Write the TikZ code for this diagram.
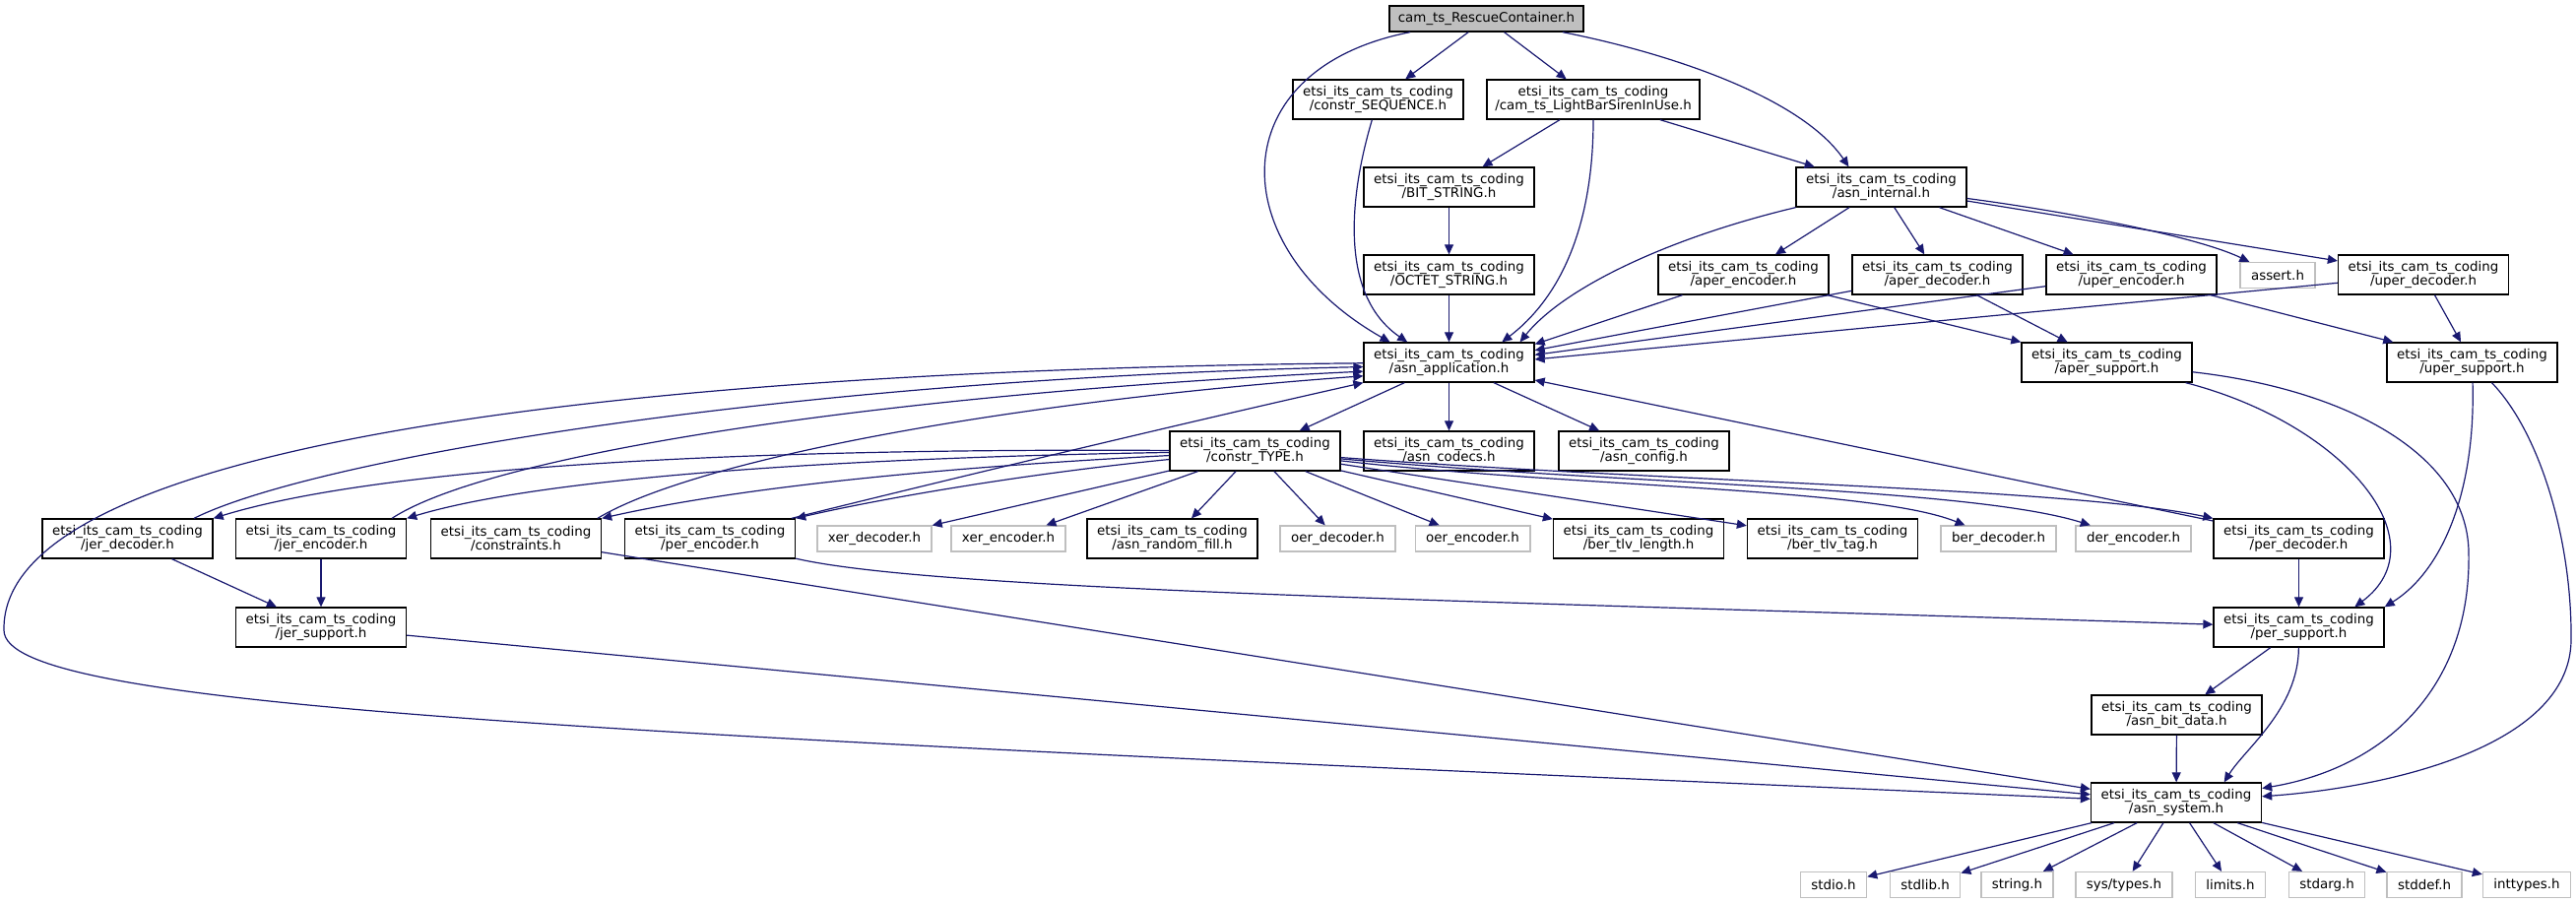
\documentclass[tikz,border=0pt]{standalone}
\usepackage{fontspec}
\setmainfont{DejaVu Sans}
\usetikzlibrary{arrows.meta}
\definecolor{depblue}{HTML}{191970}
\definecolor{sysgray}{HTML}{BFBFBF}
\newcommand\etsi{etsi\_its\_cam\_ts\_coding}
\begin{document}
\begin{tikzpicture}[x=0.5pt, y=-0.5pt,
  every node/.style={font=\fontsize{6.7}{7.4}\selectfont, align=center},
  hdr/.style={draw=black, line width=0.65pt, fill=white, minimum width=86.5pt, minimum height=20pt, inner sep=1pt},
  syshdr/.style={draw=sysgray, line width=0.65pt, fill=white, minimum height=13pt, inner xsep=5.5pt, inner ysep=0pt},
  roothdr/.style={draw=black, line width=0.65pt, fill=sysgray, minimum width=98.5pt, minimum height=13pt, inner sep=1pt},
  dep/.style={draw=depblue, line width=0.6pt, -{Triangle[length=5pt,width=4.5pt]}}]
\useasboundingbox (0,0) rectangle (2616,916);

\node[roothdr] (root) at (1509.5,19) {cam\_ts\_RescueContainer.h};
\node[hdr] (constrSeq) at (1399.5,101) {\etsi\\/constr\_SEQUENCE.h};
\node[hdr, minimum width=108pt] (lightBar) at (1618,101) {\etsi\\/cam\_ts\_LightBarSirenInUse.h};
\node[hdr] (bitString) at (1471.5,190) {\etsi\\/BIT\_STRING.h};
\node[hdr] (asnInt) at (1910.5,190) {\etsi\\/asn\_internal.h};
\node[hdr] (octetString) at (1471.5,279) {\etsi\\/OCTET\_STRING.h};
\node[hdr] (aperEnc) at (1770.5,279) {\etsi\\/aper\_encoder.h};
\node[hdr] (aperDec) at (1967.5,279) {\etsi\\/aper\_decoder.h};
\node[hdr] (uperEnc) at (2164.5,279) {\etsi\\/uper\_encoder.h};
\node[syshdr] (assert) at (2313,279.5) {assert.h};
\node[hdr] (uperDec) at (2461,279) {\etsi\\/uper\_decoder.h};
\node[hdr] (asnApp) at (1471.5,368) {\etsi\\/asn\_application.h};
\node[hdr] (aperSup) at (2139.5,368) {\etsi\\/aper\_support.h};
\node[hdr] (uperSup) at (2510.5,368) {\etsi\\/uper\_support.h};
\node[hdr] (constrType) at (1274.5,458) {\etsi\\/constr\_TYPE.h};
\node[hdr] (asnCodecs) at (1471.5,458) {\etsi\\/asn\_codecs.h};
\node[hdr] (asnConfig) at (1669.5,458) {\etsi\\/asn\_config.h};
\node[hdr] (jerDec) at (129.5,547) {\etsi\\/jer\_decoder.h};
\node[hdr] (jerEnc) at (326,547) {\etsi\\/jer\_encoder.h};
\node[hdr] (constraints) at (524,547) {\etsi\\/constraints.h};
\node[hdr] (perEnc) at (721,547) {\etsi\\/per\_encoder.h};
\node[syshdr] (xerDec) at (888,547) {xer\_decoder.h};
\node[syshdr] (xerEnc) at (1024,547) {xer\_encoder.h};
\node[hdr] (asnRandom) at (1190.5,547) {\etsi\\/asn\_random\_fill.h};
\node[syshdr] (oerDec) at (1358.5,547) {oer\_decoder.h};
\node[syshdr] (oerEnc) at (1495.5,547) {oer\_encoder.h};
\node[hdr] (berTlvLen) at (1664,547) {\etsi\\/ber\_tlv\_length.h};
\node[hdr] (berTlvTag) at (1861,547) {\etsi\\/ber\_tlv\_tag.h};
\node[syshdr] (berDec) at (2029.5,547) {ber\_decoder.h};
\node[syshdr] (derEnc) at (2166.5,547) {der\_encoder.h};
\node[hdr] (perDec) at (2334.5,547) {\etsi\\/per\_decoder.h};
\node[hdr] (jerSup) at (326,637) {\etsi\\/jer\_support.h};
\node[hdr] (perSup) at (2334.5,637) {\etsi\\/per\_support.h};
\node[hdr] (asnBitData) at (2210.5,726) {\etsi\\/asn\_bit\_data.h};
\node[hdr] (asnSystem) at (2210,815) {\etsi\\/asn\_system.h};

% top levels
\draw[dep] (root) -- (constrSeq);
\draw[dep] (root) -- (lightBar);
\draw[dep] (root.-10) .. controls (1700,55) and (1830,100) .. (asnInt.148);
\draw[dep] (root.190) .. controls (1240,70) and (1240,250) .. (asnApp.161);
\draw[dep] (constrSeq) .. controls (1370,200) and (1360,300) .. (asnApp.154);
\draw[dep] (lightBar) -- (bitString);
\draw[dep] (lightBar) -- (asnInt);
\draw[dep] (lightBar) .. controls (1618,200) and (1600,290) .. (asnApp.21);
\draw[dep] (bitString) -- (octetString);
\draw[dep] (octetString) -- (asnApp);
\draw[dep] (asnInt) .. controls (1700,240) and (1590,290) .. (asnApp.16);
\draw[dep] (asnInt) -- (aperEnc);
\draw[dep] (asnInt) -- (aperDec);
\draw[dep] (asnInt) -- (uperEnc);
\draw[dep] (asnInt) .. controls (2100,215) and (2230,240) .. (assert);
\draw[dep] (asnInt) -- (uperDec);
\draw[dep] (aperEnc) -- (asnApp.12);
\draw[dep] (aperDec) -- (asnApp.8);
\draw[dep] (uperEnc) -- (asnApp.5);
\draw[dep] (uperDec) -- (asnApp.2);
\draw[dep] (aperEnc) -- (aperSup.north west);
\draw[dep] (aperDec) -- (aperSup);
\draw[dep] (uperEnc) -- (uperSup);
\draw[dep] (uperDec) -- (uperSup);

% asn_application and constr_TYPE
\draw[dep] (asnApp) -- (constrType);
\draw[dep] (asnApp) -- (asnCodecs);
\draw[dep] (asnApp) -- (asnConfig);
\draw[dep] (asnApp) .. controls (700,375) and (0,440) .. (4,640) .. controls (4,720) and (600,745) .. (asnSystem);
\draw[dep] (jerDec.17) .. controls (320,465) and (800,385) .. (asnApp.183);
\draw[dep] (jerEnc.16) .. controls (500,460) and (900,400) .. (asnApp.186);
\draw[dep] (constraints.14) .. controls (700,470) and (1000,410) .. (asnApp.189);
\draw[dep] (perEnc.14) .. controls (950,490) and (1200,430) .. (asnApp.south west);
\draw[dep] (constrType) .. controls (800,455) and (400,470) .. (jerDec.north east);
\draw[dep] (constrType) .. controls (850,465) and (550,485) .. (jerEnc.north east);
\draw[dep] (constrType) .. controls (950,475) and (750,495) .. (constraints.north east);
\draw[dep] (constrType) .. controls (1050,480) and (900,505) .. (perEnc.north east);
\draw[dep] (constrType) -- (xerDec);
\draw[dep] (constrType) -- (xerEnc);
\draw[dep] (constrType) -- (asnRandom);
\draw[dep] (constrType) -- (oerDec);
\draw[dep] (constrType) -- (oerEnc);
\draw[dep] (constrType) -- (berTlvLen);
\draw[dep] (constrType) -- (berTlvTag);
\draw[dep] (constrType) .. controls (1600,495) and (1900,495) .. (berDec);
\draw[dep] (constrType) .. controls (1650,492) and (2000,495) .. (derEnc);
\draw[dep] (constrType) .. controls (1700,490) and (2100,495) .. (perDec.north west);

% supports
\draw[dep] (jerDec) -- (jerSup);
\draw[dep] (jerEnc) -- (jerSup);
\draw[dep] (constraints) -- (asnSystem);
\draw[dep] (jerSup) -- (asnSystem);
\draw[dep] (perEnc) .. controls (950,600) and (1500,610) .. (perSup);
\draw[dep] (perDec) -- (perSup);
\draw[dep] (perDec) -- (asnApp);
\draw[dep] (aperSup) .. controls (2380,430) and (2480,550) .. (perSup.20);
\draw[dep] (uperSup) .. controls (2514,500) and (2480,580) .. (perSup.north east);
\draw[dep] (aperSup) .. controls (2380,395) and (2505,460) .. (2507,560) .. controls (2510,700) and (2420,780) .. (asnSystem);
\draw[dep] (uperSup) .. controls (2580,440) and (2612,550) .. (2611,650) .. controls (2610,760) and (2420,800) .. (asnSystem);
\draw[dep] (perSup) -- (asnBitData);
\draw[dep] (perSup) .. controls (2334,720) and (2280,760) .. (asnSystem.23);
\draw[dep] (asnBitData) -- (asnSystem);

% system headers
\foreach \n/\x/\t in {stdio/1862/{stdio.h}, stdlib/1955/{stdlib.h}, string/2048.5/{string.h},
  systypes/2157/{sys/types.h}, limits/2265/{limits.h}, stdarg/2363/{stdarg.h},
  stddef/2462/{stddef.h}, inttypes/2566/{inttypes.h}}{
  \node[syshdr] (\n) at (\x,898.5) {\t};
  \draw[dep] (asnSystem) -- (\n);
}
\end{tikzpicture}
\end{document}
